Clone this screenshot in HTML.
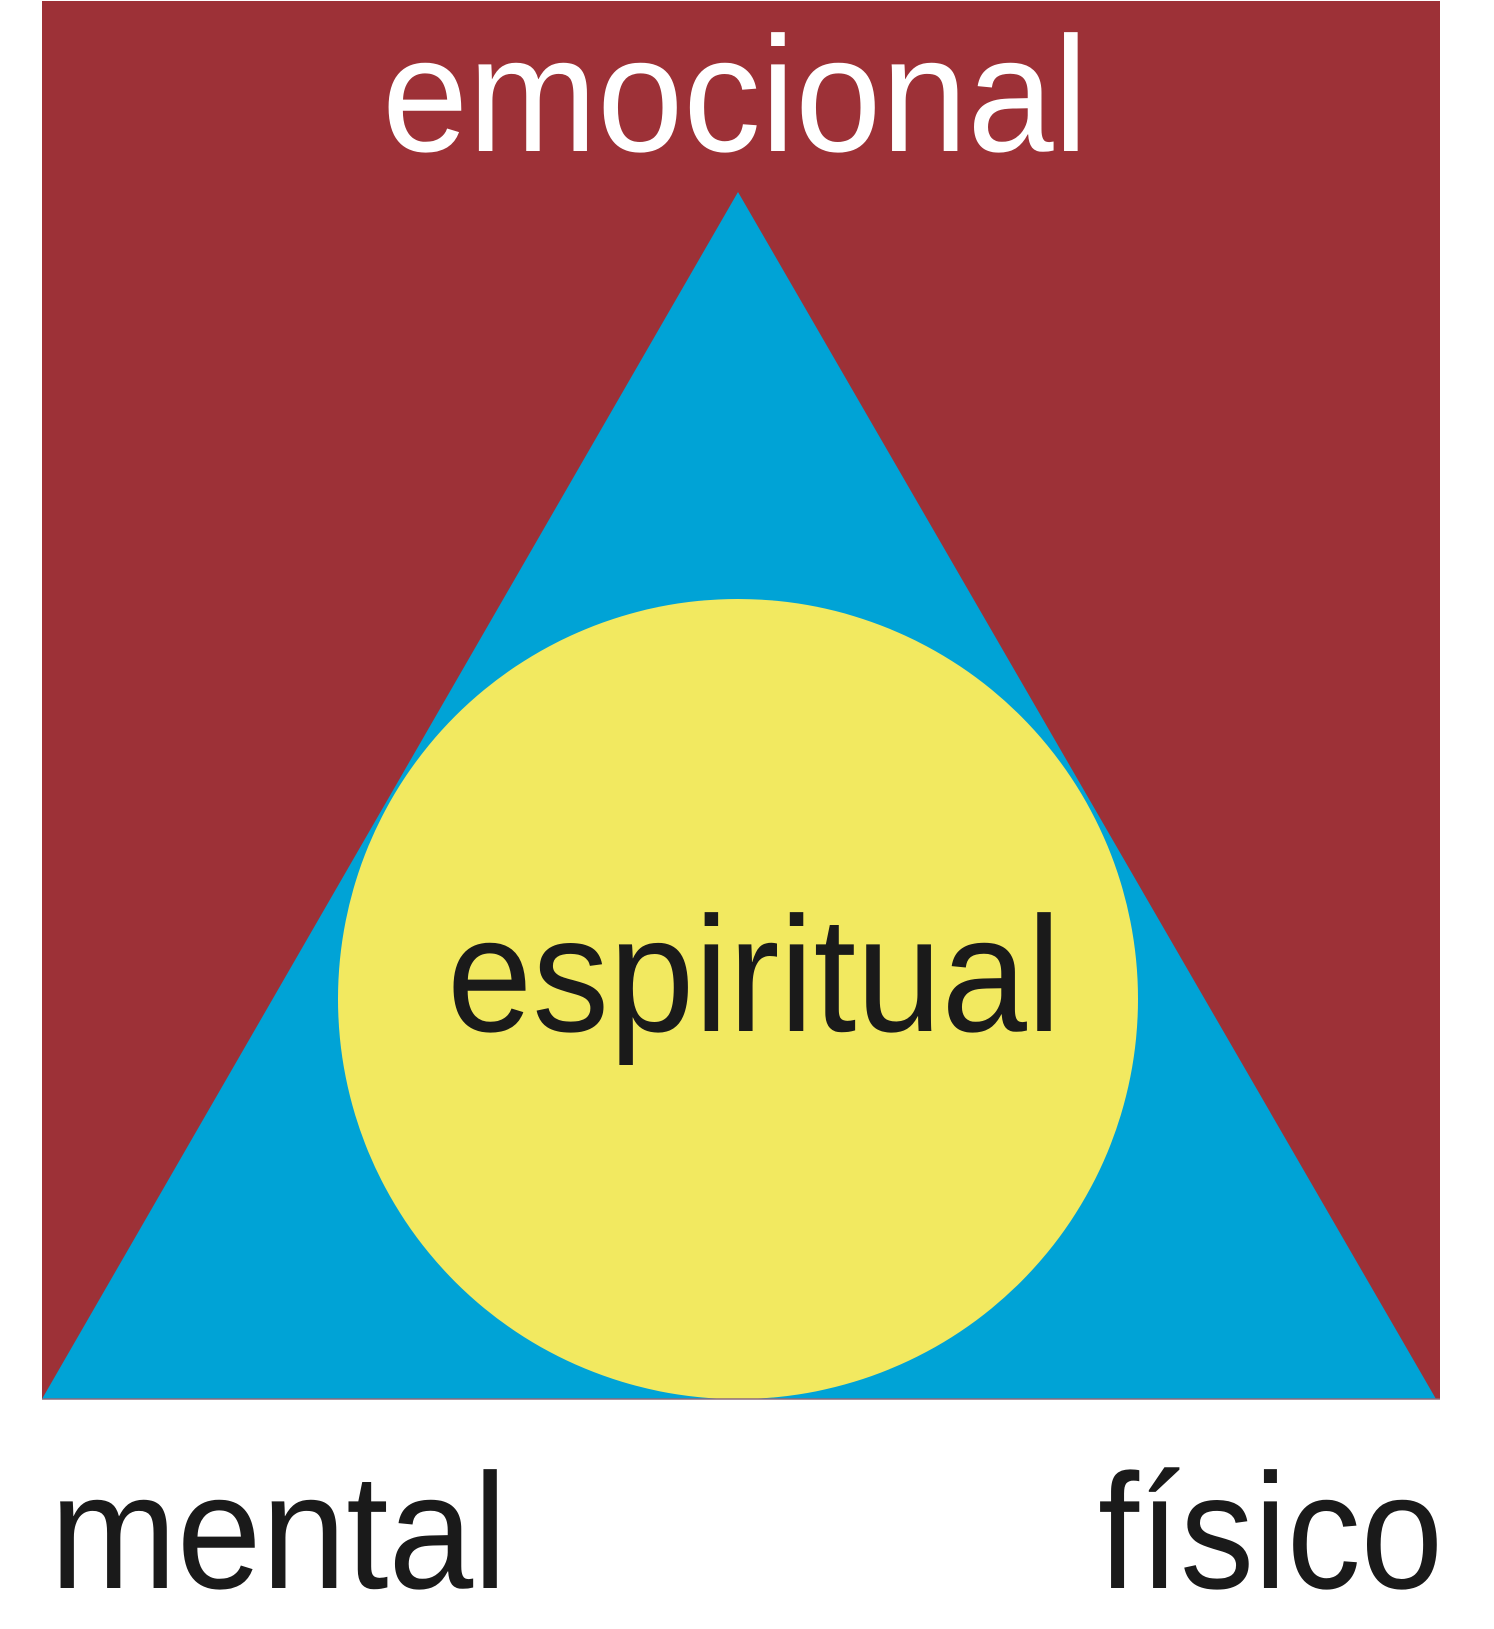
<!DOCTYPE html>
<html><head><meta charset="utf-8"><style>html,body{margin:0;padding:0;background:#fff}svg{display:block}</style></head>
<body>
<svg width="1494" height="1629" viewBox="0 0 1494 1629" xmlns="http://www.w3.org/2000/svg">
<rect x="42" y="1" width="1398" height="1398" fill="#9D3137"/>
<polygon points="738,192 42,1399 1436,1399" fill="#00A3D6"/>
<ellipse cx="738" cy="999" rx="400" ry="400" fill="#F2E960"/>
<line x1="42" y1="1399" x2="1440" y2="1399" stroke="#8a6a7a" stroke-width="1.5"/>
<g font-family="Liberation Sans, sans-serif" font-size="164">
<text x="382" y="151" fill="#fff" textLength="706" lengthAdjust="spacingAndGlyphs">emocional</text>
<text x="447" y="1031" fill="#1a1a1a" textLength="614" lengthAdjust="spacingAndGlyphs">espiritual</text>
<text x="50" y="1588" fill="#1a1a1a" textLength="457" lengthAdjust="spacingAndGlyphs">mental</text>
<text x="1098" y="1588" fill="#1a1a1a" textLength="345" lengthAdjust="spacingAndGlyphs">físico</text>
</g>
</svg>
</body></html>
